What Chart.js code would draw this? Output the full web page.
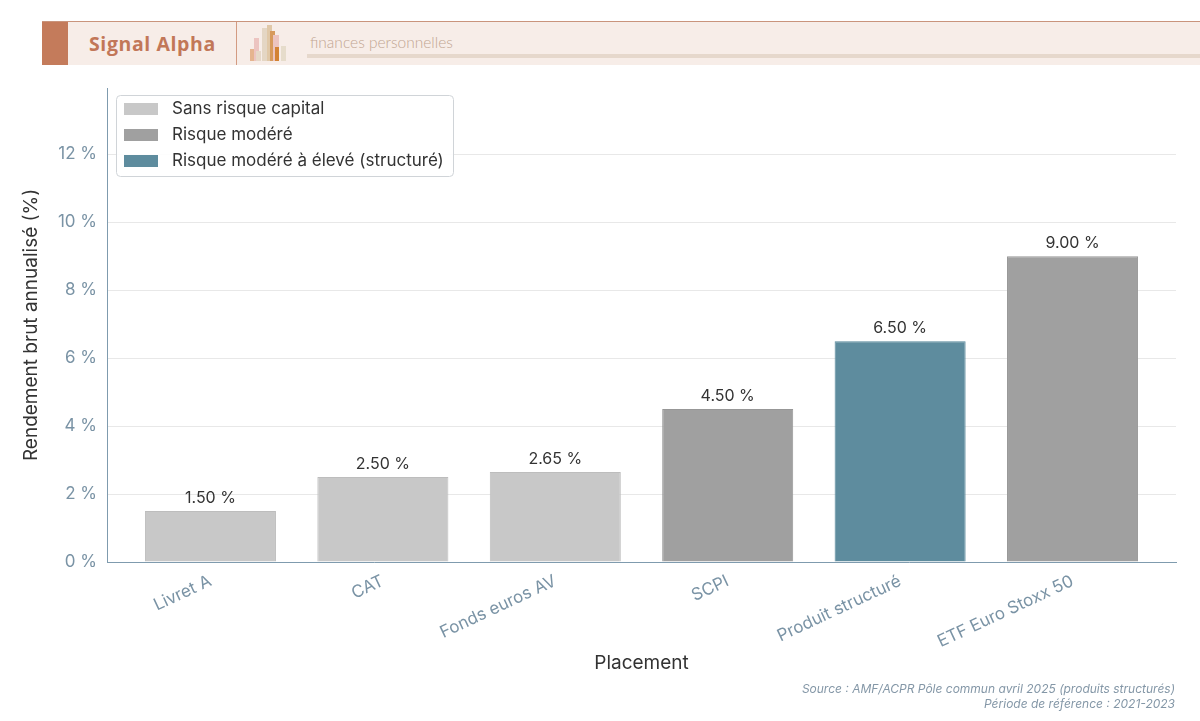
<!DOCTYPE html>
<html lang="fr">
<head>
<meta charset="utf-8">
<title>Rendement brut annualisé par placement</title>
<script src="https://cdn.jsdelivr.net/npm/chart.js@4.4.1/dist/chart.umd.min.js"></script>
<style>
  html, body { margin: 0; padding: 0; background: #fff; }
  body { width: 1200px; height: 721px; position: relative; overflow: hidden; font-family: Inter, "Noto Sans", sans-serif; }
  #chart-wrap { position: absolute; left: 0; top: 0; width: 1200px; height: 721px; }
  .banner { position: absolute; left: 42px; top: 21px; width: 1158px; height: 43px; background: #f7ede8; border-top: 1px solid #c9947c; }
  .banner .square { position: absolute; left: 0; top: 0; width: 26px; height: 43px; background: #c47b5b; }
  .banner .brand { position: absolute; left: 47px; top: 8px; font-family: "Open Sans", sans-serif; font-weight: 700; font-size: 19.5px; color: #c27758; letter-spacing: 0.6px; }
  .banner .divider { position: absolute; left: 194px; top: 0; width: 1px; height: 43px; background: #d39b82; }
  .banner .tag { position: absolute; left: 268px; top: 11px; font-family: Lato, sans-serif; font-weight: 300; font-size: 15.5px; color: #c2a692; }
  .banner .rule { position: absolute; left: 265px; top: 32px; right: 0; height: 4px; background: #e6d8cc; }
  .icon span { position: absolute; bottom: 4px; }
  .footer { position: absolute; right: 25px; top: 681px; text-align: right; font-style: italic; font-size: 12px; line-height: 15px; color: #8497a7; }
</style>
</head>
<body>
<div id="chart-wrap"><canvas id="bar-chart"></canvas></div>
<div class="banner">
  <div class="square"></div>
  <div class="brand">Signal Alpha</div>
  <div class="divider"></div>
  <div class="icon">
    <span style="left:208px;height:12px;width:5px;background:#e5b48f"></span>
    <span style="left:212px;height:23px;width:5px;background:#ecc4c0"></span>
    <span style="left:214px;height:10px;width:5px;background:#e6d8c8"></span>
    <span style="left:220px;height:33px;width:6px;background:#e4d6c4"></span>
    <span style="left:225px;height:36px;width:5px;background:#e0c8a8"></span>
    <span style="left:228px;height:30px;width:5px;background:#d79a5c"></span>
    <span style="left:231px;height:26px;width:6px;background:#ecc4c0"></span>
    <span style="left:233px;height:14px;width:4px;background:#d38234"></span>
    <span style="left:239px;height:15px;width:5px;background:#e6dccb"></span>
  </div>
  <div class="tag">finances personnelles</div>
  <div class="rule"></div>
</div>
<div class="footer">Source : AMF/ACPR Pôle commun avril 2025 (produits structurés)<br>Période de référence : 2021-2023</div>
<script>
const CATEGORIES = ["Livret A", "CAT", "Fonds euros AV", "SCPI", "Produit structuré", "ETF Euro Stoxx 50"];
const SANS_RISQUE = [1.5, 2.5, 2.65, null, null, null];
const RISQUE_MODERE = [null, null, null, 4.5, null, 9.0];
const RISQUE_STRUCTURE = [null, null, null, null, 6.5, null];
const Y_TICKS = [0, 2, 4, 6, 8, 10, 12];

const FONT = "Inter, 'Noto Sans', sans-serif";

// one point per category index, so the x axis can be a linear scale with margins
const toPoints = arr => arr.map((v, i) => ({ x: i, y: v }));

// value labels above each bar
const valueLabels = {
  id: "valueLabels",
  afterDatasetsDraw(chart) {
    const ctx = chart.ctx;
    ctx.save();
    ctx.font = "16px " + FONT;
    ctx.fillStyle = "#333333";
    ctx.textAlign = "center";
    ctx.textBaseline = "bottom";
    chart.data.datasets.forEach((ds, i) => {
      const meta = chart.getDatasetMeta(i);
      meta.data.forEach((bar, j) => {
        const v = ds.data[j].y;
        if (v === null || v === undefined) return;
        ctx.fillText(v.toFixed(2) + " %", bar.x, bar.y - 5);
      });
    });
    ctx.restore();
  }
};

// legend box drawn inside the plot, top left
const insideLegend = {
  id: "insideLegend",
  afterDraw(chart) {
    const ctx = chart.ctx;
    const area = chart.chartArea;
    const x0 = area.left + 9, y0 = area.top + 7;
    const w = 337, h = 81;
    ctx.save();
    ctx.fillStyle = "rgba(255,255,255,0.9)";
    ctx.strokeStyle = "#d0d4d8";
    ctx.lineWidth = 1;
    ctx.beginPath();
    ctx.roundRect(x0 + 0.5, y0 + 0.5, w, h, 4);
    ctx.fill();
    ctx.stroke();
    ctx.font = "17px " + FONT;
    ctx.textBaseline = "middle";
    ctx.textAlign = "left";
    chart.data.datasets.forEach((ds, i) => {
      const cy = y0 + 14 + i * 26;
      ctx.fillStyle = ds.backgroundColor;
      ctx.fillRect(x0 + 8, cy - 6, 34, 12);
      ctx.fillStyle = "#333333";
      ctx.fillText(ds.label, x0 + 56, cy);
    });
    ctx.restore();
  }
};

const config = {
  type: "bar",
  data: {
    datasets: [
      {
        label: "Sans risque capital",
        data: toPoints(SANS_RISQUE),
        backgroundColor: "#c8c8c8",
        borderColor: "#bdbdbd",
        borderWidth: 1,
      },
      {
        label: "Risque modéré",
        data: toPoints(RISQUE_MODERE),
        backgroundColor: "#a0a0a0",
        borderColor: "#979797",
        borderWidth: 1,
      },
      {
        label: "Risque modéré à élevé (structuré)",
        data: toPoints(RISQUE_STRUCTURE),
        backgroundColor: "#5e8c9e",
        borderColor: "#55879a",
        borderWidth: 1,
      },
    ],
  },
  options: {
    responsive: true,
    maintainAspectRatio: false,
    animation: false,
    layout: { padding: { top: 88, right: 24, left: 20, bottom: 46 } },
    plugins: {
      legend: { display: false },
      tooltip: { enabled: false },
    },
    datasets: { bar: { grouped: false, barPercentage: 0.76, categoryPercentage: 1 } },
    scales: {
      x: {
        type: "linear",
        min: -0.6,
        max: 5.6,
        offset: false,
        grid: { display: false },
        border: { color: "#7f9bae", width: 1 },
        afterBuildTicks(scale) { scale.ticks = CATEGORIES.map((c, i) => ({ value: i })); },
        ticks: {
          color: "#7a93a5",
          font: { family: FONT, size: 17 },
          minRotation: 25,
          maxRotation: 25,
          padding: 1,
          callback: v => CATEGORIES[v],
        },
        title: {
          display: true,
          text: "Placement",
          color: "#333333",
          font: { family: FONT, size: 19 },
          padding: { top: 4, bottom: 0 },
        },
        afterFit(scale) { scale.height = 721 - 562 - 46; },
      },
      y: {
        min: 0,
        max: 13.95,
        grid: { color: "#e8e8e8", drawTicks: false },
        border: { color: "#7f9bae", width: 1 },
        afterBuildTicks(scale) { scale.ticks = Y_TICKS.map(v => ({ value: v })); },
        ticks: {
          color: "#7a93a5",
          font: { family: FONT, size: 17 },
          padding: 10,
          callback: v => v + " %",
        },
        title: {
          display: true,
          text: "Rendement brut annualisé (%)",
          color: "#333333",
          font: { family: FONT, size: 19 },
          padding: { top: 0, bottom: 8 },
        },
        afterFit(scale) { scale.width = 87; },
      },
    },
  },
  plugins: [valueLabels, insideLegend],
};

const ctx = document.getElementById("bar-chart").getContext("2d");
new Chart(ctx, config);
</script>
</body>
</html>
